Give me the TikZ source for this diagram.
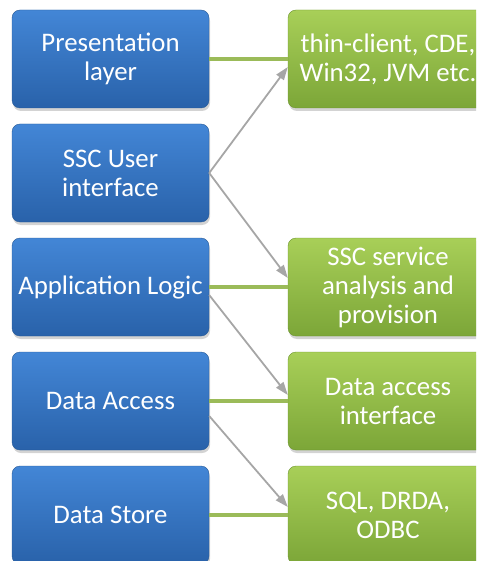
\documentclass[tikz,border=0pt]{standalone}
\usepackage{fontspec}
\setmainfont{Carlito}
\usepackage{tikz,xcolor}
\usetikzlibrary{arrows.meta}
\usetikzlibrary{shadows}

\definecolor{bluetop}{HTML}{4386D6}
\definecolor{bluebot}{HTML}{2962AA}
\definecolor{blueline}{HTML}{285A96}
\definecolor{greentop}{HTML}{A8CF58}
\definecolor{greenbot}{HTML}{7CA638}
\definecolor{greenline}{HTML}{6C9430}
\definecolor{linkgreen}{HTML}{9BBB59}
\definecolor{linkgray}{HTML}{A6A6A6}

\begin{document}
\begin{tikzpicture}[x=1pt,y=-1pt]

    \useasboundingbox (0,0) rectangle (476,561);
    \clip (0,0) rectangle (476,561);

    \tikzstyle{every node}=[rectangle,rounded corners=8pt,text=white,align=center,
        font=\fontsize{26.8}{29}\selectfont,minimum height=98pt,inner sep=0pt,
        drop shadow={opacity=0.35,shadow xshift=1pt,shadow yshift=-3pt}]
    \tikzstyle{layer}=[draw=blueline,top color=bluetop,bottom color=bluebot,minimum width=197pt]
    \tikzstyle{tech}=[draw=greenline,top color=greentop,bottom color=greenbot,minimum width=200pt]
    \tikzstyle{bar}=[draw=linkgreen,line width=4pt]
    \tikzstyle{link}=[draw=linkgray,line width=1.8pt,-{Triangle[length=13pt,width=9pt]}]

    % layers
    \node[layer](b1) at (110.5,59){Presentation\\layer};
    \node[layer](b2) at (110.5,173){SSC User\\interface};
    \node[layer](b3) at (110.5,287){Application Logic};
    \node[layer](b4) at (110.5,401){Data Access};
    \node[layer](b5) at (110.5,515){Data Store};

    % technologies
    \node[tech](g1) at (388,59){thin-client, CDE,\\Win32, JVM etc.};
    \node[tech](g2) at (388,287){SSC service\\analysis and\\provision};
    \node[tech](g3) at (388,401){Data access\\interface};
    \node[tech](g4) at (388,515){SQL, DRDA,\\ODBC};

    \draw[bar](b1.east)--(g1.west);
    \draw[bar](b3.east)--(g2.west);
    \draw[bar](b4.east)--(g3.west);
    \draw[bar](b5.east)--(g4.west);

    \draw[link](b2.east)--([yshift=-8pt]g1.west);
    \draw[link](b2.east)--([yshift=9pt]g2.west);
    \draw[link]([yshift=-8pt]b3.east)--([yshift=6pt]g3.west);
    \draw[link]([yshift=-15pt]b4.east)--([yshift=8pt]g4.west);

\end{tikzpicture}
\end{document}
